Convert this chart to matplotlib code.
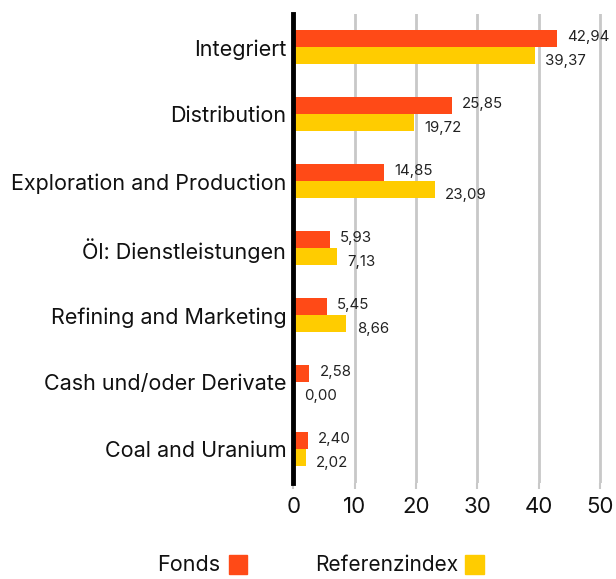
import matplotlib
matplotlib.use("Agg")
import matplotlib.pyplot as plt
import numpy as np
from matplotlib.patches import Rectangle

categories = ["Integriert", "Distribution", "Exploration and Production",
              "Öl: Dienstleistungen", "Refining and Marketing",
              "Cash und/oder Derivate", "Coal and Uranium"]
fonds = [42.94, 25.85, 14.85, 5.93, 5.45, 2.58, 2.40]
referenz = [39.37, 19.72, 23.09, 7.13, 8.66, 0.00, 2.02]
xticks = [0, 10, 20, 30, 40, 50]
series_names = ["Fonds", "Referenzindex"]

ORANGE = "#FF4A17"
YELLOW = "#FFCC00"
GRID = "#C8C8C8"

plt.rcParams['font.family'] = ['Inter', 'DejaVu Sans']

fig = plt.figure(figsize=(6.16, 5.79), dpi=100)
ax = fig.add_axes([0.476, 0.166, 0.501, 0.810])

y = np.arange(len(categories))
h = 0.255
ax.barh(y - h/2, fonds, height=h, color=ORANGE, zorder=3)
ax.barh(y + h/2, referenz, height=h, color=YELLOW, zorder=3)

def fmt(v):
    return f"{v:.2f}".replace(".", ",")

for i in range(len(categories)):
    ax.annotate(fmt(fonds[i]), (fonds[i], y[i] - h/2), xytext=(7.5, 1.5),
                textcoords="offset points", va="center", ha="left",
                fontsize=10.8, color="#222222", zorder=4)
    ax.annotate(fmt(referenz[i]), (referenz[i], y[i] + h/2), xytext=(7.5, -3.5),
                textcoords="offset points", va="center", ha="left",
                fontsize=10.8, color="#222222", zorder=4)

ax.set_ylim(len(categories) - 0.5, -0.5)
ax.set_xlim(0, 50.3)
ax.set_yticks(y)
ax.set_yticklabels(categories, fontsize=15.5, color="#111111")
ax.set_xticks(xticks)
ax.set_xticklabels([str(t) for t in xticks], fontsize=16, color="#111111")
ax.tick_params(axis='y', length=0, pad=5)
ax.tick_params(axis='x', length=4, color=GRID, width=1.5, pad=6)

for t in xticks[1:]:
    ax.axvline(t, color=GRID, lw=2, zorder=1)

for s in ["top", "right", "bottom"]:
    ax.spines[s].set_visible(False)
ax.spines["left"].set_linewidth(3.5)
ax.spines["left"].set_color("black")
ax.spines["left"].set_zorder(5)

# legend
fig.text(220/616, 1 - 565/579, series_names[0], ha="right", va="center",
         fontsize=15.5, color="#111111")
fig.patches.append(Rectangle((229/616, 1 - 574/579), 18/616, 19/579,
                             transform=fig.transFigure, color=ORANGE, figure=fig))
fig.text(315/616, 1 - 565/579, series_names[1], ha="left", va="center",
         fontsize=15.0, color="#111111")
fig.patches.append(Rectangle((465/616, 1 - 574/579), 19/616, 19/579,
                             transform=fig.transFigure, color=YELLOW, figure=fig))

fig.savefig("out.png", dpi=100)
